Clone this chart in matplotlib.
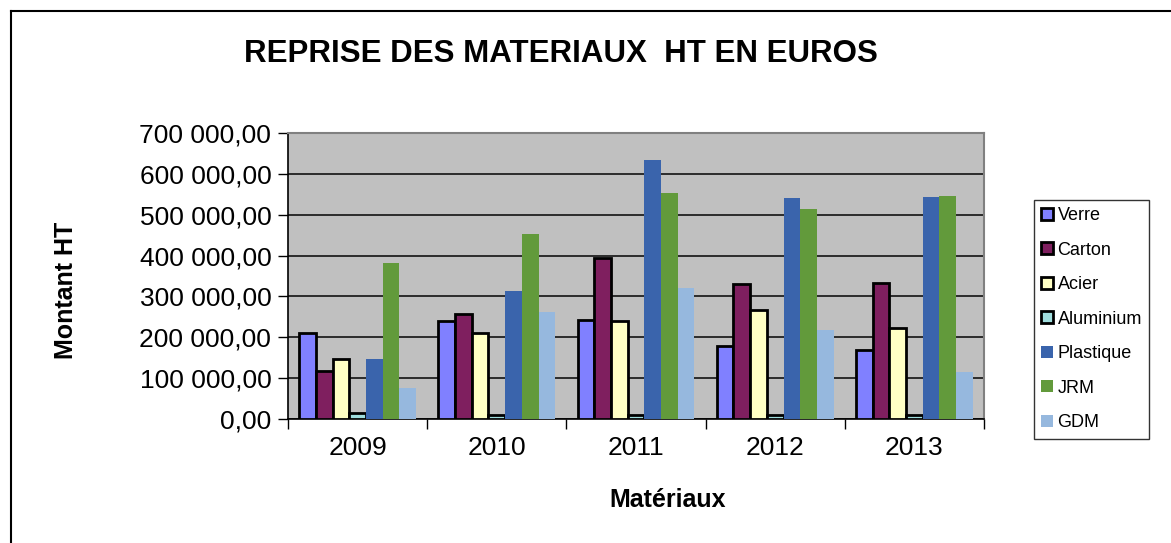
import matplotlib
matplotlib.use("Agg")
import matplotlib.pyplot as plt
import matplotlib.ticker as mtick
from matplotlib.lines import Line2D
import numpy as np

plt.rcParams['font.family'] = ['Liberation Sans', 'DejaVu Sans']

annees = ["2009", "2010", "2011", "2012", "2013"]
materiaux = ["Verre", "Carton", "Acier", "Aluminium", "Plastique", "JRM", "GDM"]

verre = [211000, 240000, 242000, 179000, 170000]
carton = [118000, 258000, 393000, 330000, 333000]
acier = [146000, 211000, 240000, 268000, 223000]
aluminium = [14000, 10500, 10000, 9000, 9000]
plastique = [148000, 314000, 635000, 540000, 543000]
jrm = [381000, 452000, 552000, 515000, 545000]
gdm = [77000, 261000, 321000, 218000, 114000]

series = [verre, carton, acier, aluminium, plastique, jrm, gdm]
couleurs = ["#8080FF", "#7F1F5F", "#FFFFC4", "#A0DEDE", "#3A64AC", "#629A3B", "#96B8DE"]
bordure = [True, True, True, True, False, False, False]

W, H = 1171, 543
fig = plt.figure(figsize=(W / 100, H / 100), dpi=100)
ax = fig.add_axes([288 / W, 1 - 419 / H, (984 - 288) / W, (419 - 133) / H])
ax.set_facecolor("#C0C0C0")

x = np.arange(len(annees))
larg = 0.84 / len(series)
for j, (vals, c, b) in enumerate(zip(series, couleurs, bordure)):
    if b:
        ax.bar(x + (j - 3) * larg, vals, larg, color=c, edgecolor="black",
               linewidth=2, label=materiaux[j], zorder=3)
    else:
        ax.bar(x + (j - 3) * larg, vals, larg, color=c, linewidth=0,
               label=materiaux[j], zorder=3)

ax.set_xlim(-0.5, 4.5)
ax.set_ylim(0, 700000)
ax.set_yticks(np.arange(0, 700001, 100000))
ax.yaxis.set_major_formatter(mtick.FuncFormatter(
    lambda v, p: f"{v:,.2f}".replace(",", " ").replace(".", ",")))
ax.set_xticks(x)
ax.set_xticklabels(annees)
ax.set_xticks(np.arange(-0.5, 5, 1), minor=True)
ax.tick_params(axis="x", which="major", length=0, labelsize=19, pad=12)
ax.tick_params(axis="x", which="minor", length=7, width=1, direction="out")
ax.tick_params(axis="y", length=7, width=1, labelsize=19, pad=5)
ax.grid(axis="y", color="#202020", linewidth=1.3, zorder=1)
ax.set_axisbelow(True)

for s in ["top", "right"]:
    ax.spines[s].set_color("#808080")
    ax.spines[s].set_linewidth(1.5)
for s in ["left", "bottom"]:
    ax.spines[s].set_color("black")
    ax.spines[s].set_linewidth(1.2)

fig.text(561 / W, 1 - 54 / H, "REPRISE DES MATERIAUX  HT EN EUROS",
         ha="center", va="center", fontsize=22.5, fontweight="bold")
fig.text(668 / W, 1 - 500 / H, "Matériaux", ha="center", va="center",
         fontsize=18, fontweight="bold")
fig.text(66 / W, 1 - 290 / H, "Montant HT", ha="center", va="center",
         rotation=90, fontsize=18, fontweight="bold")

leg = ax.legend(loc="upper left", bbox_to_anchor=(1034 / W, 1 - 200 / H),
                bbox_transform=fig.transFigure, fontsize=13, frameon=True,
                fancybox=False, handlelength=0.65, handleheight=0.65,
                handletextpad=0.25, labelspacing=0.97, borderpad=0.4,
                borderaxespad=0)
leg.get_frame().set_edgecolor("black")
leg.get_frame().set_linewidth(1)

# cadre du graphique (gauche et haut)
fig.add_artist(Line2D([11 / W, 11 / W], [0, 1 - 11 / H], color="black",
                      linewidth=1.5, transform=fig.transFigure))
fig.add_artist(Line2D([11 / W, 1], [1 - 11 / H, 1 - 11 / H], color="black",
                      linewidth=1.5, transform=fig.transFigure))

fig.savefig("out.png", dpi=100)
plt.close(fig)
